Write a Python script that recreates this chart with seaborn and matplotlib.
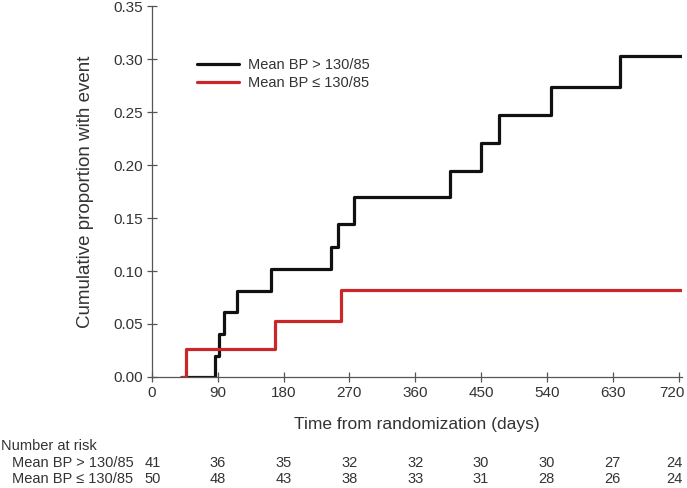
import numpy as np
import pandas as pd
import matplotlib
matplotlib.use("Agg")
import matplotlib.pyplot as plt
import matplotlib.transforms as mtransforms
import seaborn as sns

# step curves (days, cumulative proportion)
high_days = [42, 87, 92, 98, 117, 163, 245, 255, 277, 408, 450, 475, 545, 640, 725]
high_prop = [0.0, 0.020, 0.041, 0.061, 0.081, 0.102, 0.123, 0.144, 0.170, 0.194, 0.221, 0.247, 0.274, 0.303, 0.303]
low_days = [40, 47, 169, 258, 725]
low_prop = [0.0, 0.026, 0.053, 0.082, 0.082]

groups = ["Mean BP > 130/85", "Mean BP \u2264 130/85"]
colors = ["#111111", "#c9282b"]

x_ticks = [0, 90, 180, 270, 360, 450, 540, 630, 720]
y_ticks = [0.00, 0.05, 0.10, 0.15, 0.20, 0.25, 0.30, 0.35]
risk_high = [41, 36, 35, 32, 32, 30, 30, 27, 24]
risk_low = [50, 48, 43, 38, 33, 31, 28, 26, 24]

df = pd.concat([
    pd.DataFrame({"days": high_days, "prop": high_prop, "group": groups[0]}),
    pd.DataFrame({"days": low_days, "prop": low_prop, "group": groups[1]}),
])

sns.set_style("white")
plt.rcParams["font.family"] = ["Liberation Sans", "DejaVu Sans"]

fig = plt.figure(figsize=(6.87, 4.88), dpi=100)
ax = fig.add_axes([0.221, 0.2275, 0.772, 0.76])

sns.lineplot(data=df, x="days", y="prop", hue="group", palette=colors,
             drawstyle="steps-post", linewidth=2.3, ax=ax, legend=True,
             estimator=None, sort=False)

ax.set_xlim(0, 725)
ax.set_ylim(0, 0.35)
ax.set_xticks(x_ticks)
ax.set_yticks(y_ticks)
ax.set_yticklabels([f"{v:.2f}" for v in y_ticks])
ax.tick_params(direction="inout", length=7, width=0.9, color="#555555",
               labelsize=11, labelcolor="#333333", pad=3, left=True, bottom=True)
for side in ["top", "right"]:
    ax.spines[side].set_visible(False)
for side in ["left", "bottom"]:
    ax.spines[side].set_color("#555555")
    ax.spines[side].set_linewidth(0.9)

# nudge the last x tick label so it stays inside the figure
last = ax.get_xticklabels()[-1]
last.set_transform(last.get_transform() + mtransforms.ScaledTranslation(-7 / 100, 0, fig.dpi_scale_trans))

ax.set_xlabel("Time from randomization (days)", fontsize=12.5, color="#333333", labelpad=12)
ax.set_ylabel("Cumulative proportion with event", fontsize=13.5, color="#333333", labelpad=14)

leg = ax.legend(loc="upper left", bbox_to_anchor=(0.06, 0.895), frameon=False,
                fontsize=10.5, handlelength=2.9, handletextpad=0.6, labelspacing=0.25)
for t in leg.get_texts():
    t.set_color("#333333")

# number at risk table
fig.text(0.002, 1 - 446 / 488, "Number at risk", fontsize=10.5, color="#333333", va="center")
for i, (lab, row) in enumerate(zip(groups, [risk_high, risk_low])):
    yy = 1 - (463 + 16 * i) / 488
    fig.text(0.017, yy, lab, fontsize=10.5, color="#333333", va="center")
    for d, n in zip(x_ticks, row):
        xf = ax.transData.transform((d, 0))[0] / fig.bbox.width
        if d == 0:
            xf += 0.001
        elif d == 720:
            xf -= 0.006
        fig.text(xf, yy, str(n), fontsize=10.5, color="#333333", va="center", ha="center")

fig.savefig("out.png", dpi=100)
